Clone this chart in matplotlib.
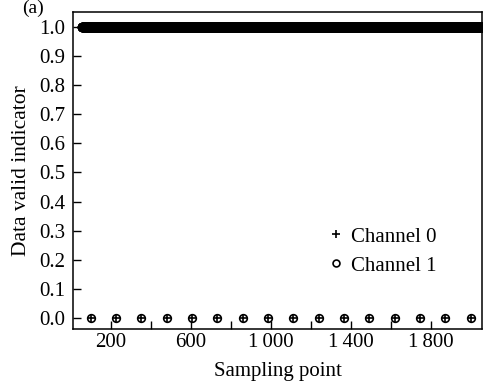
import matplotlib
matplotlib.use("Agg")
import matplotlib.pyplot as plt
import numpy as np

plt.rcParams['font.family'] = ['Liberation Serif', 'DejaVu Serif']
plt.rcParams['mathtext.fontset'] = 'stix'

# sampling points where the data was flagged invalid
invalid_points = [100, 227, 353, 480, 607, 733, 860, 987, 1113,
                  1240, 1367, 1493, 1620, 1747, 1873, 2000]
first_sample = 55
last_sample = 2060

xtick_major = [200, 600, 1000, 1400, 1800]
xtick_labels = ['200', '600', '1\u2009000', '1\u2009400', '1\u2009800']
xtick_minor = [400, 800, 1200, 1600]
yticks = [0.0, 0.1, 0.2, 0.3, 0.4, 0.5, 0.6, 0.7, 0.8, 0.9, 1.0]

samples = np.arange(first_sample, last_sample + 1)
valid = ~np.isin(samples, invalid_points)

fig = plt.figure(figsize=(4.9, 3.83), dpi=100)
ax = fig.add_axes([0.1496, 0.141, 0.8347, 0.8277])

# valid samples -> indicator 1.0 (dense, forms a thick band)
ax.plot(samples[valid], np.ones(valid.sum()), ls='none', marker='o',
        ms=6.5, mfc='black', mec='black', mew=0.5)
# invalid samples -> indicator 0.0
ax.plot(invalid_points, np.zeros(len(invalid_points)), ls='none', marker='+',
        ms=6, mec='black', mew=1.2, label='Channel 0')
ax.plot(invalid_points, np.zeros(len(invalid_points)), ls='none', marker='o',
        ms=5.5, mfc='none', mec='black', mew=1.2, label='Channel 1')

ax.set_xlim(13, 2058)
ax.set_ylim(-0.037, 1.05)
ax.set_xticks(xtick_major)
ax.set_xticklabels(xtick_labels)
ax.set_xticks(xtick_minor, minor=True)
ax.set_yticks(yticks)
ax.set_yticklabels(['%.1f' % v for v in yticks])

ax.tick_params(axis='both', which='both', direction='in', length=6,
               width=1.0, labelsize=15, top=False, right=False)
ax.tick_params(axis='x', pad=3)
ax.tick_params(axis='y', pad=6)
for s in ax.spines.values():
    s.set_linewidth(1.1)

ax.set_xlabel('Sampling point', fontsize=15, labelpad=7)
ax.set_ylabel('Data valid indicator', fontsize=15.5, labelpad=6)

leg = ax.legend(loc='center left', bbox_to_anchor=(0.58, 0.245), frameon=False,
                fontsize=15, handlelength=0.6, handletextpad=0.45,
                labelspacing=0.45, markerscale=0.9)

fig.text(0.045, 1.0, '(a)', fontsize=14, va='top')

fig.savefig('out.png', dpi=100)
